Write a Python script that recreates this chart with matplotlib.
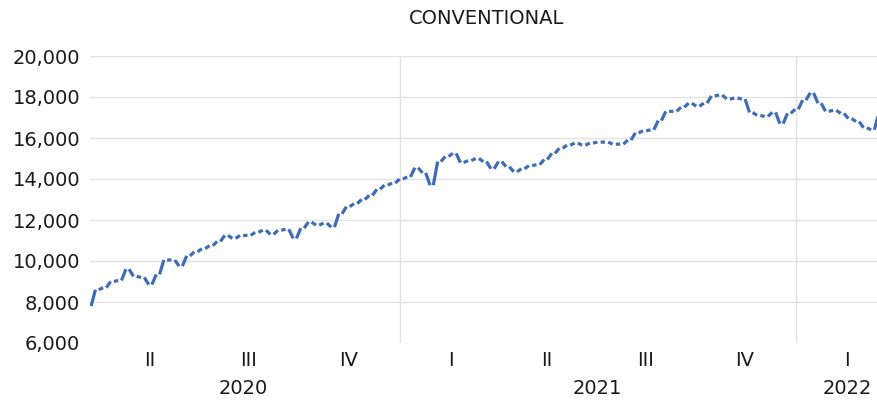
import numpy as np
import pandas as pd
import matplotlib
matplotlib.use("Agg")
import matplotlib.pyplot as plt
import matplotlib.dates as mdates

# weekly closes, one per Friday from 2020-03-20
week_end = pd.date_range("2020-03-20", periods=105, freq="7D")
closes = [
    7800, 8600, 8700, 9000, 9050, 9600, 9250, 9200, 8850, 9350,
    10050, 10050, 9750, 10250, 10450, 10600, 10750, 10950, 11250, 11100,
    11250, 11250, 11400, 11500, 11300, 11500, 11550, 11100, 11600, 11900,
    11750, 11850, 11650, 12300, 12650, 12800, 13000, 13200, 13500, 13700,
    13800, 14000, 14100, 14550, 14300, 13700, 14850, 15100, 15250, 14800,
    14900, 15000, 14850, 14500, 14850, 14600, 14350, 14500, 14650, 14700,
    14950, 15250, 15500, 15650, 15750, 15650, 15750, 15800, 15800, 15700,
    15700, 15900, 16250, 16350, 16400, 16850, 17300, 17300, 17500, 17700,
    17550, 17700, 18050, 18100, 17900, 17950, 17900, 17250, 17100, 17050,
    17250, 16700, 17200, 17400, 17850, 18200, 17700, 17300, 17350, 17200,
    16950, 16800, 16500, 16400, 17200,
]

quarter_labels = ["II", "III", "IV", "I", "II", "III", "IV", "I"]
quarter_mid = pd.to_datetime([
    "2020-05-16", "2020-08-15", "2020-11-15", "2021-02-17",
    "2021-05-16", "2021-08-15", "2021-11-15", "2022-02-17",
])
year_labels = ["2020", "2021", "2022"]
year_pos = pd.to_datetime(["2020-08-10", "2021-07-02", "2022-02-17"])
year_breaks = pd.to_datetime(["2021-01-01", "2022-01-01"])

blue = "#3D6CBE"
grid = "#E2E2E2"
font = "DejaVu Sans"

# one dash per trading week: Monday (previous close) -> Friday (close)
xs, ys = [], []
for k in range(1, len(closes)):
    mon = week_end[k - 1] + pd.Timedelta(days=3)
    xs += [mdates.date2num(mon), mdates.date2num(week_end[k]), np.nan]
    ys += [closes[k - 1], closes[k], np.nan]

fig = plt.figure(figsize=(8.78, 4.01), dpi=100)
ax = fig.add_axes([90 / 878, 58 / 401, 788 / 878, 287 / 401])

for v in range(8000, 20001, 2000):
    ax.axhline(v, color=grid, linewidth=1.0, zorder=0)
for d in year_breaks:
    ax.axvline(mdates.date2num(d), color=grid, linewidth=1.0, zorder=0)

ax.plot(xs, ys, color=blue, linewidth=2.3, solid_capstyle="butt", zorder=3)

ax.set_xlim(mdates.date2num(pd.Timestamp("2020-03-22")), mdates.date2num(pd.Timestamp("2022-03-17 08:00")))
ax.set_ylim(6000, 20000)
ax.set_yticks(np.arange(6000, 20001, 2000))
ax.set_yticklabels([f"{v:,}" for v in range(6000, 20001, 2000)], fontsize=14, family=font, color="#1a1a1a")
ax.tick_params(axis="y", length=0, pad=7)
ax.set_xticks([])
for s in ax.spines.values():
    s.set_visible(False)

trans = ax.get_xaxis_transform()
for lab, d in zip(quarter_labels, quarter_mid):
    ax.text(mdates.date2num(d), -0.06, lab, transform=trans, ha="center", va="center",
            fontsize=14, family=font, color="#1a1a1a")
for lab, d in zip(year_labels, year_pos):
    ax.text(mdates.date2num(d), -0.16, lab, transform=trans, ha="center", va="center",
            fontsize=14, family=font, color="#1a1a1a")

fig.text(487 / 878, 1 - 18 / 401, "CONVENTIONAL", ha="center", va="center",
         fontsize=14, family=font, color="#1a1a1a")

fig.savefig("out.png", dpi=100)
